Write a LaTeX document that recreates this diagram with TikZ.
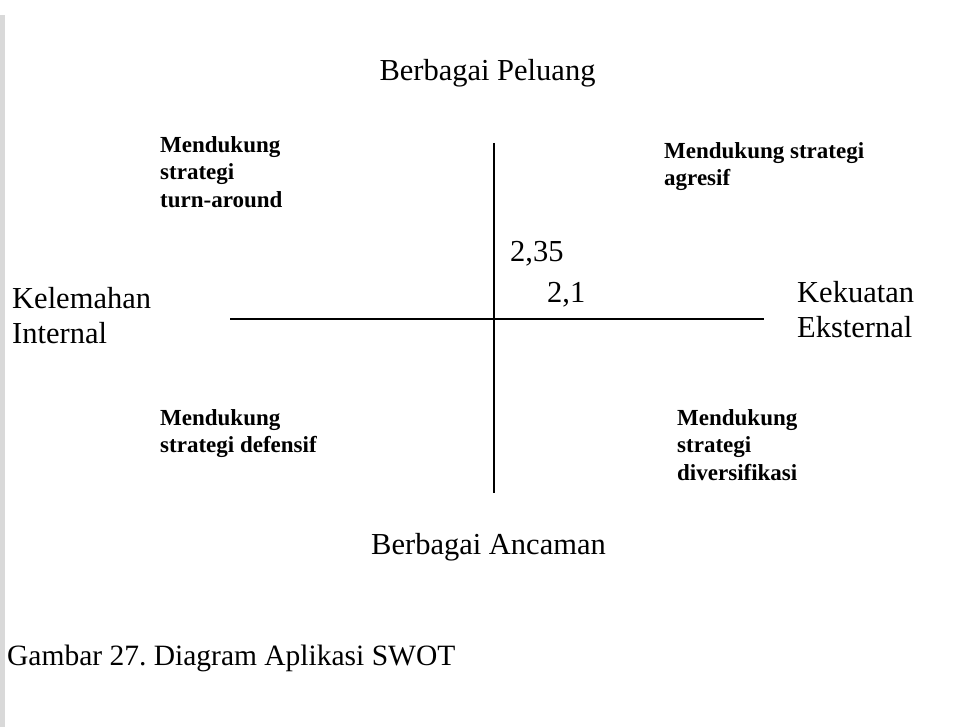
\documentclass[tikz,border=0pt]{standalone}
\usepackage{fontspec}
\setmainfont{Liberation Serif}
\usepackage{xcolor}
\usepackage{tikz}
\usetikzlibrary{positioning}
\definecolor{strip}{RGB}{217,217,217}
\frenchspacing

\begin{document}
\begin{tikzpicture}[x=1pt, y=-1pt, inner sep=0pt,
        axlbl/.style={font=\fontsize{30.5}{35}\selectfont, align=left},
        qbox/.style={font=\bfseries\fontsize{23}{27.5}\selectfont,
                     align=left, anchor=north west},
        axis/.style={line width=1.6pt}]
      \useasboundingbox (0,0) rectangle (954,727);
      \fill[strip] (0,15) rectangle (5,727);
      % axes
      \coordinate (top) at (494,143);
      \coordinate (bottom) at (494,493);
      \coordinate (left) at (230,319);
      \coordinate (right) at (764,319);
      \draw[axis] (top) -- (bottom);
      \draw[axis] (left) -- (right);
      % axis labels
      \node[axlbl, anchor=base] (peluang) at (487.5,81) {Berbagai Peluang};
      \node[axlbl, anchor=base] (ancaman) at (488.5,554) {Berbagai Ancaman};
      \node[axlbl, anchor=north west] (kelemahan) at (12,287.5)
        {Kelemahan\\Internal};
      \node[axlbl, anchor=north west] (kekuatan) at (797,281.5)
        {Kekuatan\\Eksternal};
      % quadrants
      \node[qbox] (turnaround) at (160,136)
        {Mendukung\\strategi\\turn-around};
      \node[qbox] (agresif) at (664,142)
        {Mendukung strategi\\agresif};
      \node[qbox] (defensif) at (160,409)
        {Mendukung\\strategi defensif};
      \node[qbox] (diversifikasi) at (677,409)
        {Mendukung\\strategi\\diversifikasi};
      % values
      \node[axlbl, anchor=base west] (nilaiY) at (510,262) {2,35};
      \node[axlbl, anchor=base west] (nilaiX) at (547,303) {2,1};
      \node[axlbl, anchor=base west, font=\fontsize{29.5}{35}\selectfont]
        (caption) at (7,665) {Gambar 27. Diagram Aplikasi SWOT};
    \end{tikzpicture}
\end{document}
